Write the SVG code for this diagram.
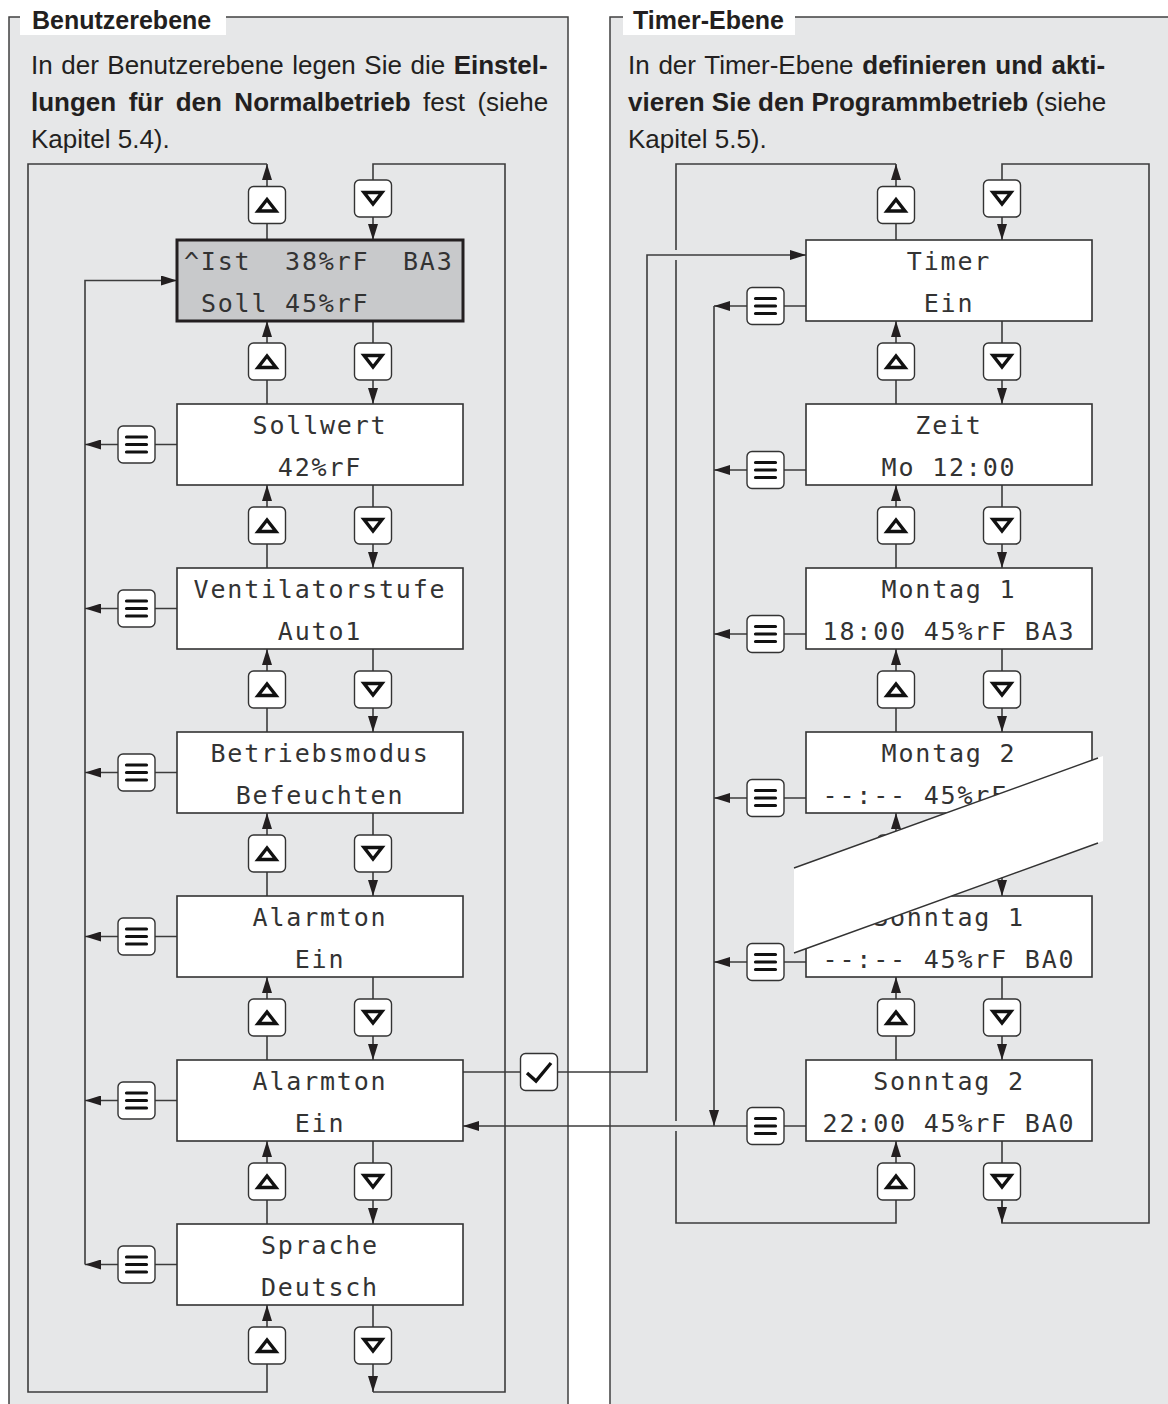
<svg xmlns="http://www.w3.org/2000/svg" xmlns:xlink="http://www.w3.org/1999/xlink" width="1168" height="1404" viewBox="0 0 1168 1404">
<defs>
<style>
.panel{fill:#e6e7e8;stroke:#404040;stroke-width:1.5}
.hdrbg{fill:#ffffff}
.hdr{font-family:"Liberation Sans",Arial,sans-serif;font-weight:bold;font-size:25px;fill:#231f20}
.intro{font-family:"Liberation Sans",Arial,sans-serif;font-size:26px;fill:#231f20}
.b{font-weight:bold}
.box{fill:#ffffff;stroke:#333333;stroke-width:1.6}
.disp{fill:#c8c9cb;stroke:#231f20;stroke-width:3}
.lcd{font-family:"DejaVu Sans Mono",monospace;font-size:25px;letter-spacing:1.8px;fill:#333333}
.mid{text-anchor:middle}
.btn{fill:#ffffff;stroke:#333333;stroke-width:1.4}
.ico{fill:none;stroke:#111111;stroke-width:3.4;stroke-linejoin:miter}
.bar{fill:none;stroke:#111111;stroke-width:3.2;stroke-linecap:round}
.ln{fill:none;stroke:#3c3c3c;stroke-width:1.6}
.arr{marker-end:url(#ah)}
.brk{fill:#ffffff;stroke:none}
.brkl{fill:none;stroke:#333333;stroke-width:1.4}
</style>
<marker id="ah" viewBox="0 0 16 10" refX="16" refY="5" markerWidth="16" markerHeight="10" markerUnits="userSpaceOnUse" orient="auto"><path d="M0,0L16,5L0,10z" fill="#231f20"/></marker>
<g id="bup"><rect class="btn" x="-18.5" y="-18.5" width="37" height="37" rx="5"/><polygon class="ico" points="-9,6 9,6 0,-5.5"/></g>
<g id="bdn"><rect class="btn" x="-18.5" y="-18.5" width="37" height="37" rx="5"/><polygon class="ico" points="-9,-6 9,-6 0,5.5"/></g>
<g id="bmenu"><rect class="btn" x="-18.5" y="-18.5" width="37" height="37" rx="5"/><path class="bar" d="M-10,-7.5H10M-10,0H10M-10,7.5H10"/></g>
<g id="bok"><rect class="btn" x="-18.5" y="-18.5" width="37" height="37" rx="5"/><polyline class="ico" points="-12,1 -3,9 12,-9"/></g>
</defs>

<rect x="0" y="0" width="1168" height="1404" fill="#ffffff"/>

<g id="panel-left">
<rect class="panel" x="9" y="17" width="559" height="1420"/>
<rect class="hdrbg" x="20" y="0" width="206" height="35"/>
<text class="hdr" x="32" y="29">Benutzerebene</text>
<text class="intro" x="31" y="74" word-spacing="1.3">In der Benutzerebene legen Sie die <tspan class="b">Einstel-</tspan></text>
<text class="intro" x="31" y="111" word-spacing="5.2"><tspan class="b">lungen für den Normalbetrieb</tspan> fest (siehe</text>
<text class="intro" x="31" y="148">Kapitel 5.4).</text>
</g>

<g id="panel-right">
<rect class="panel" x="610" y="17" width="600" height="1420"/>
<rect class="hdrbg" x="623" y="0" width="172" height="35"/>
<text class="hdr" x="633" y="29">Timer-Ebene</text>
<text class="intro" x="628" y="74" word-spacing="1.5">In der Timer-Ebene <tspan class="b">definieren und akti-</tspan></text>
<text class="intro" x="628" y="111"><tspan class="b">vieren Sie den Programmbetrieb</tspan> (siehe</text>
<text class="intro" x="628" y="148">Kapitel 5.5).</text>
</g>

<g id="connectors">
<path class="ln" d="M267,1364V1392H28V164H267"/>
<path class="ln arr" d="M267,187V164"/>
<path class="ln" d="M267,240V223"/>
<path class="ln" d="M373,1392H505V164H373V180"/>
<path class="ln arr" d="M373,217V240"/>
<path class="ln" d="M267,404V380M373,321V343"/>
<path class="ln arr" d="M267,343V321"/><path class="ln arr" d="M373,380V404"/>
<path class="ln" d="M267,568V544M373,485V507"/>
<path class="ln arr" d="M267,507V485"/><path class="ln arr" d="M373,544V568"/>
<path class="ln" d="M267,732V708M373,649V671"/>
<path class="ln arr" d="M267,671V649"/><path class="ln arr" d="M373,708V732"/>
<path class="ln" d="M267,896V872M373,813V835"/>
<path class="ln arr" d="M267,835V813"/><path class="ln arr" d="M373,872V896"/>
<path class="ln" d="M267,1060V1036M373,977V999"/>
<path class="ln arr" d="M267,999V977"/><path class="ln arr" d="M373,1036V1060"/>
<path class="ln" d="M267,1224V1200M373,1141V1163"/>
<path class="ln arr" d="M267,1163V1141"/><path class="ln arr" d="M373,1200V1224"/>
<path class="ln" d="M373,1305V1327"/>
<path class="ln arr" d="M267,1327V1305"/><path class="ln arr" d="M373,1364V1392"/>
<path class="ln arr" d="M85,1264.5V280.5H177"/>
<path class="ln" d="M177,444.5H155M177,608.5H155M177,772.5H155M177,936.5H155M177,1100.5H155M177,1264.5H155"/>
<path class="ln arr" d="M118,444.5H85"/>
<path class="ln arr" d="M118,608.5H85"/>
<path class="ln arr" d="M118,772.5H85"/>
<path class="ln arr" d="M118,936.5H85"/>
<path class="ln arr" d="M118,1100.5H85"/>
<path class="ln arr" d="M118,1264.5H85"/>
<path class="ln" d="M463,1072H520.5"/>
<path class="ln arr" d="M557.5,1072H647V255H806"/>
<path class="ln" d="M896,1200V1223H676V1131M676,1121V260M676,250V164H896"/>
<path class="ln arr" d="M896,187V164"/>
<path class="ln" d="M896,240V223"/>
<path class="ln" d="M1002,1200V1223H1149V164H1002V180"/>
<path class="ln arr" d="M1002,217V240"/>
<path class="ln" d="M896,404V380M1002,321V343"/>
<path class="ln arr" d="M896,343V321"/><path class="ln arr" d="M1002,380V404"/>
<path class="ln" d="M896,568V544M1002,485V507"/>
<path class="ln arr" d="M896,507V485"/><path class="ln arr" d="M1002,544V568"/>
<path class="ln" d="M896,732V708M1002,649V671"/>
<path class="ln arr" d="M896,671V649"/><path class="ln arr" d="M1002,708V732"/>
<path class="ln" d="M896,896V872M1002,813V835"/>
<path class="ln arr" d="M896,835V813"/><path class="ln arr" d="M1002,872V896"/>
<path class="ln" d="M896,1060V1036M1002,977V999"/>
<path class="ln arr" d="M896,999V977"/><path class="ln arr" d="M1002,1036V1060"/>
<path class="ln" d="M1002,1141V1163"/>
<path class="ln arr" d="M896,1163V1141"/><path class="ln arr" d="M1002,1200V1223"/>
<path class="ln" d="M806,306H784M806,470H784M806,634H784M806,798H784M806,962H784M806,1126H784"/>
<path class="ln arr" d="M747,306H714"/>
<path class="ln arr" d="M747,470H714"/>
<path class="ln arr" d="M747,634H714"/>
<path class="ln arr" d="M747,798H714"/>
<path class="ln arr" d="M747,962H714"/>
<path class="ln arr" d="M714,306V1126"/>
<path class="ln arr" d="M747,1126H463"/>
</g>

<g id="buttons">
<use xlink:href="#bup" x="267" y="205"/><use xlink:href="#bdn" x="373" y="198.5"/>
<use xlink:href="#bup" x="267" y="361.5"/><use xlink:href="#bdn" x="373" y="361.5"/>
<use xlink:href="#bup" x="267" y="525.5"/><use xlink:href="#bdn" x="373" y="525.5"/>
<use xlink:href="#bup" x="267" y="689.5"/><use xlink:href="#bdn" x="373" y="689.5"/>
<use xlink:href="#bup" x="267" y="853.5"/><use xlink:href="#bdn" x="373" y="853.5"/>
<use xlink:href="#bup" x="267" y="1017.5"/><use xlink:href="#bdn" x="373" y="1017.5"/>
<use xlink:href="#bup" x="267" y="1181.5"/><use xlink:href="#bdn" x="373" y="1181.5"/>
<use xlink:href="#bup" x="267" y="1345.5"/><use xlink:href="#bdn" x="373" y="1345.5"/>
<use xlink:href="#bmenu" x="136.5" y="444.5"/>
<use xlink:href="#bmenu" x="136.5" y="608.5"/>
<use xlink:href="#bmenu" x="136.5" y="772.5"/>
<use xlink:href="#bmenu" x="136.5" y="936.5"/>
<use xlink:href="#bmenu" x="136.5" y="1100.5"/>
<use xlink:href="#bmenu" x="136.5" y="1264.5"/>
<use xlink:href="#bok" x="539" y="1072"/>
<use xlink:href="#bup" x="896" y="205"/><use xlink:href="#bdn" x="1002" y="198.5"/>
<use xlink:href="#bup" x="896" y="361.5"/><use xlink:href="#bdn" x="1002" y="361.5"/>
<use xlink:href="#bup" x="896" y="525.5"/><use xlink:href="#bdn" x="1002" y="525.5"/>
<use xlink:href="#bup" x="896" y="689.5"/><use xlink:href="#bdn" x="1002" y="689.5"/>
<use xlink:href="#bup" x="896" y="853.5"/><use xlink:href="#bdn" x="1002" y="853.5"/>
<use xlink:href="#bup" x="896" y="1017.5"/><use xlink:href="#bdn" x="1002" y="1017.5"/>
<use xlink:href="#bup" x="896" y="1181.5"/><use xlink:href="#bdn" x="1002" y="1181.5"/>
<use xlink:href="#bmenu" x="765.5" y="306"/>
<use xlink:href="#bmenu" x="765.5" y="470"/>
<use xlink:href="#bmenu" x="765.5" y="634"/>
<use xlink:href="#bmenu" x="765.5" y="798"/>
<use xlink:href="#bmenu" x="765.5" y="962"/>
<use xlink:href="#bmenu" x="765.5" y="1126"/>
</g>

<g id="node-anzeige">
<rect class="disp" x="177" y="240" width="286" height="81"/>
<text class="lcd" y="270"><tspan x="184">^Ist</tspan><tspan x="285.1">38%rF</tspan><tspan x="403">BA3</tspan></text>
<text class="lcd" y="312"><tspan x="200.9">Soll</tspan><tspan x="285.1">45%rF</tspan></text>
</g>
<g id="node-sollwert">
<rect class="box" x="177" y="404" width="286" height="81"/>
<text class="lcd mid" x="320" y="434">Sollwert</text>
<text class="lcd mid" x="320" y="476">42%rF</text>
</g>
<g id="node-ventilatorstufe">
<rect class="box" x="177" y="568" width="286" height="81"/>
<text class="lcd mid" x="320" y="598">Ventilatorstufe</text>
<text class="lcd mid" x="320" y="640">Auto1</text>
</g>
<g id="node-betriebsmodus">
<rect class="box" x="177" y="732" width="286" height="81"/>
<text class="lcd mid" x="320" y="762">Betriebsmodus</text>
<text class="lcd mid" x="320" y="804">Befeuchten</text>
</g>
<g id="node-alarmton-1">
<rect class="box" x="177" y="896" width="286" height="81"/>
<text class="lcd mid" x="320" y="926">Alarmton</text>
<text class="lcd mid" x="320" y="968">Ein</text>
</g>
<g id="node-alarmton-2">
<rect class="box" x="177" y="1060" width="286" height="81"/>
<text class="lcd mid" x="320" y="1090">Alarmton</text>
<text class="lcd mid" x="320" y="1132">Ein</text>
</g>
<g id="node-sprache">
<rect class="box" x="177" y="1224" width="286" height="81"/>
<text class="lcd mid" x="320" y="1254">Sprache</text>
<text class="lcd mid" x="320" y="1296">Deutsch</text>
</g>

<g id="node-timer">
<rect class="box" x="806" y="240" width="286" height="81"/>
<text class="lcd mid" x="949" y="270">Timer</text>
<text class="lcd mid" x="949" y="312">Ein</text>
</g>
<g id="node-zeit">
<rect class="box" x="806" y="404" width="286" height="81"/>
<text class="lcd mid" x="949" y="434">Zeit</text>
<text class="lcd mid" x="949" y="476">Mo 12:00</text>
</g>
<g id="node-montag-1">
<rect class="box" x="806" y="568" width="286" height="81"/>
<text class="lcd mid" x="949" y="598">Montag 1</text>
<text class="lcd mid" x="949" y="640">18:00 45%rF BA3</text>
</g>
<g id="node-montag-2">
<rect class="box" x="806" y="732" width="286" height="81"/>
<text class="lcd mid" x="949" y="762">Montag 2</text>
<text class="lcd" x="822.6" y="804">--:-- 45%rF</text>
</g>
<g id="node-sonntag-1">
<rect class="box" x="806" y="896" width="286" height="81"/>
<text class="lcd mid" x="949" y="926">Sonntag 1</text>
<text class="lcd mid" x="949" y="968">--:-- 45%rF BA0</text>
</g>
<g id="node-sonntag-2">
<rect class="box" x="806" y="1060" width="286" height="81"/>
<text class="lcd mid" x="949" y="1090">Sonntag 2</text>
<text class="lcd mid" x="949" y="1132">22:00 45%rF BA0</text>
</g>

<g id="break">
<polygon class="brk" points="794,868 1103,756 1103,841 794,953"/>
<path class="brkl" d="M794,868L1098,758M794,953L1098,843"/>
</g>
</svg>
